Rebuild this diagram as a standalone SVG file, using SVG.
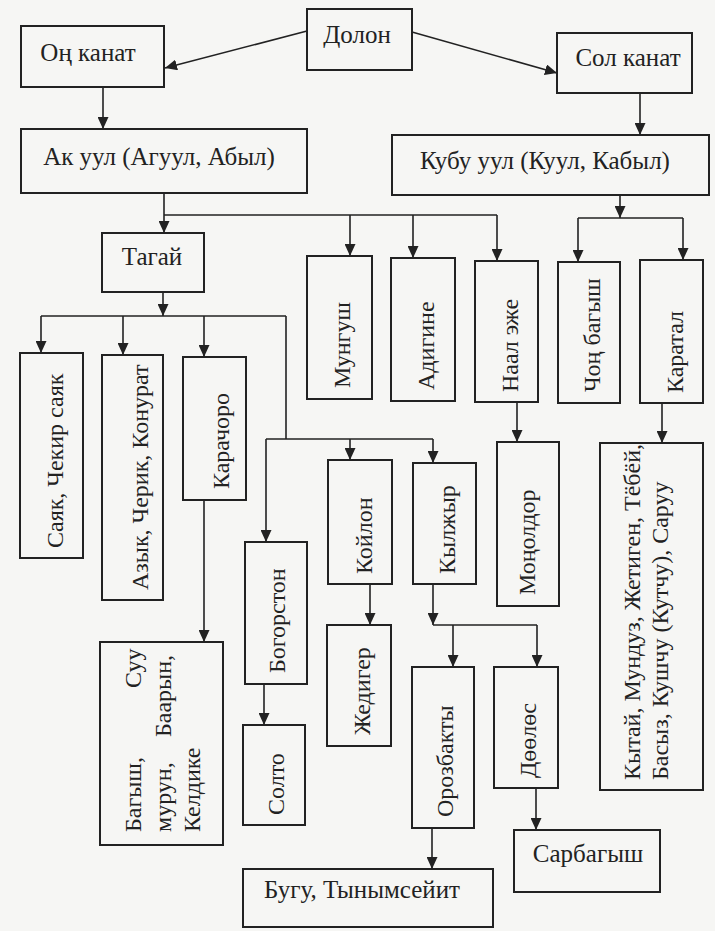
<svg xmlns="http://www.w3.org/2000/svg" width="715" height="931" viewBox="0 0 715 931">
<defs>
<marker id="ah" markerUnits="userSpaceOnUse" markerWidth="12" markerHeight="11" refX="12" refY="5.5" orient="auto">
<path d="M0,0 L12,5.5 L0,11 Z" fill="#222"/>
</marker>
<style>
.bx{fill:none;stroke:#222;stroke-width:2}
.t{font-family:"Liberation Serif","Times New Roman",serif;font-size:25px;fill:#222}
.h{text-anchor:middle}
.v{font-family:"Liberation Serif","Times New Roman",serif;font-size:24px;fill:#222}
.c line,.c path{stroke:#222;stroke-width:1.6;fill:none}
.a{marker-end:url(#ah)}
</style>
</defs>
<rect width="715" height="931" fill="#f6f6f4"/>

<g id="connectors" class="c">
<line class="a" x1="307" y1="31" x2="165" y2="68"/>
<line class="a" x1="412" y1="32" x2="557" y2="73"/>
<line class="a" x1="103" y1="87" x2="103" y2="129"/>
<line class="a" x1="640" y1="93" x2="640" y2="135"/>
<line x1="164" y1="193" x2="164" y2="215"/>
<line x1="164" y1="215" x2="497" y2="215"/>
<line class="a" x1="164" y1="215" x2="164" y2="233"/>
<line class="a" x1="350" y1="215" x2="350" y2="256"/>
<line class="a" x1="413" y1="215" x2="413" y2="258"/>
<line class="a" x1="497" y1="215" x2="497" y2="261"/>
<line class="a" x1="620" y1="195" x2="620" y2="218"/>
<line x1="578" y1="218" x2="683" y2="218"/>
<line class="a" x1="578" y1="218" x2="578" y2="262"/>
<line class="a" x1="683" y1="218" x2="683" y2="260"/>
<line class="a" x1="163" y1="292" x2="163" y2="316"/>
<line x1="41" y1="316" x2="286" y2="316"/>
<line class="a" x1="41" y1="316" x2="41" y2="353"/>
<line class="a" x1="123" y1="316" x2="123" y2="355"/>
<line class="a" x1="204" y1="316" x2="204" y2="357"/>
<line x1="286" y1="316" x2="286" y2="439"/>
<line x1="266" y1="439" x2="433" y2="439"/>
<line class="a" x1="266" y1="439" x2="266" y2="542"/>
<line class="a" x1="350" y1="439" x2="350" y2="460"/>
<line class="a" x1="433" y1="439" x2="433" y2="463"/>
<line class="a" x1="517" y1="402" x2="517" y2="442"/>
<line class="a" x1="662" y1="403" x2="662" y2="443"/>
<line class="a" x1="204" y1="500" x2="204" y2="642"/>
<line class="a" x1="264" y1="684" x2="264" y2="725"/>
<line class="a" x1="370" y1="584" x2="370" y2="625"/>
<line class="a" x1="433" y1="584" x2="433" y2="625"/>
<line x1="433" y1="625" x2="537" y2="625"/>
<line class="a" x1="453" y1="625" x2="453" y2="667"/>
<line class="a" x1="537" y1="625" x2="537" y2="667"/>
<line class="a" x1="536" y1="788" x2="536" y2="830"/>
<line class="a" x1="432" y1="828" x2="432" y2="869"/>
</g>

<g id="dolon"><rect class="bx" x="307" y="9" width="105" height="61"/><text class="t h" x="357" y="43">Долон</text></g>
<g id="on-kanat"><rect class="bx" x="21" y="26" width="143" height="61"/><text class="t h" x="88" y="61">Оң канат</text></g>
<g id="sol-kanat"><rect class="bx" x="557" y="33" width="135" height="60"/><text class="t h" x="628" y="66">Сол канат</text></g>
<g id="ak-uul"><rect class="bx" x="21" y="129" width="286" height="64"/><text class="t h" x="159" y="165">Ак уул (Агуул, Абыл)</text></g>
<g id="kubu-uul"><rect class="bx" x="392" y="135" width="317" height="60"/><text class="t h" x="545" y="169">Кубу уул (Куул, Кабыл)</text></g>
<g id="tagai"><rect class="bx" x="102" y="233" width="102" height="59"/><text class="t h" x="152" y="265">Тагай</text></g>

<g id="mungush"><rect class="bx" x="307" y="256" width="65" height="143"/><text class="v" transform="translate(350,388) rotate(-90)">Мунгуш</text></g>
<g id="adigine"><rect class="bx" x="391" y="258" width="64" height="143"/><text class="v" transform="translate(434,390) rotate(-90)">Адигине</text></g>
<g id="naal-ezhe"><rect class="bx" x="475" y="261" width="63" height="141"/><text class="v" transform="translate(518,392) rotate(-90)">Наал эже</text></g>
<g id="chon-bagysh"><rect class="bx" x="558" y="262" width="62" height="141"/><text class="v" transform="translate(600,392) rotate(-90)">Чоң багыш</text></g>
<g id="karatal"><rect class="bx" x="640" y="260" width="63" height="143"/><text class="v" transform="translate(683,393) rotate(-90)">Каратал</text></g>

<g id="sayak"><rect class="bx" x="20" y="353" width="63" height="205"/><text class="v" transform="translate(63,548) rotate(-90)">Саяк, Чекир саяк</text></g>
<g id="azyk"><rect class="bx" x="102" y="355" width="61" height="245"/><text class="v" transform="translate(148,590) rotate(-90)">Азык, Черик, Конурат</text></g>
<g id="karachoro"><rect class="bx" x="183" y="357" width="63" height="143"/><text class="v" transform="translate(229,489) rotate(-90)">Карачоро</text></g>

<g id="bogorston"><rect class="bx" x="245" y="542" width="62" height="142"/><text class="v" transform="translate(285,673) rotate(-90)">Богорстон</text></g>
<g id="koilon"><rect class="bx" x="328" y="460" width="64" height="124"/><text class="v" transform="translate(372,574) rotate(-90)">Койлон</text></g>
<g id="kylzhyr"><rect class="bx" x="413" y="463" width="63" height="121"/><text class="v" transform="translate(455,574) rotate(-90)">Кылжыр</text></g>
<g id="monoldor"><rect class="bx" x="497" y="442" width="62" height="164"/><text class="v" transform="translate(535,595) rotate(-90)">Моңолдор</text></g>
<g id="kytai"><rect class="bx" x="600" y="443" width="103" height="347"/><text class="v" transform="translate(640,780) rotate(-90)"><tspan x="0" y="0">Кытай, Мундуз, Жетиген, Тёбёй,</tspan><tspan x="0" y="28">Басыз, Кушчу (Кутчу), Саруу</tspan></text></g>

<g id="bagysh"><rect class="bx" x="100" y="642" width="123" height="203"/><text class="v" transform="translate(141,832) rotate(-90)"><tspan x="0" y="0">Багыш,</tspan><tspan x="144" y="0">Суу</tspan><tspan x="0" y="30">мурун,</tspan><tspan x="95" y="30">Баарын,</tspan><tspan x="0" y="59">Келдике</tspan></text></g>
<g id="solto"><rect class="bx" x="243" y="725" width="62" height="100"/><text class="v" transform="translate(284,815) rotate(-90)">Солто</text></g>
<g id="zhediger"><rect class="bx" x="327" y="625" width="64" height="121"/><text class="v" transform="translate(370,735) rotate(-90)">Жедигер</text></g>
<g id="orozbakty"><rect class="bx" x="412" y="667" width="62" height="161"/><text class="v" transform="translate(453,817) rotate(-90)">Орозбакты</text></g>
<g id="doolos"><rect class="bx" x="494" y="667" width="64" height="121"/><text class="v" transform="translate(536,778) rotate(-90)">Дөөлөс</text></g>
<g id="sarbagysh"><rect class="bx" x="514" y="830" width="146" height="62"/><text class="t h" x="588" y="862">Сарбагыш</text></g>
<g id="bugu"><rect class="bx" x="243" y="869" width="250" height="58"/><text class="t h" x="362" y="898">Бугу, Тынымсейит</text></g>
</svg>
